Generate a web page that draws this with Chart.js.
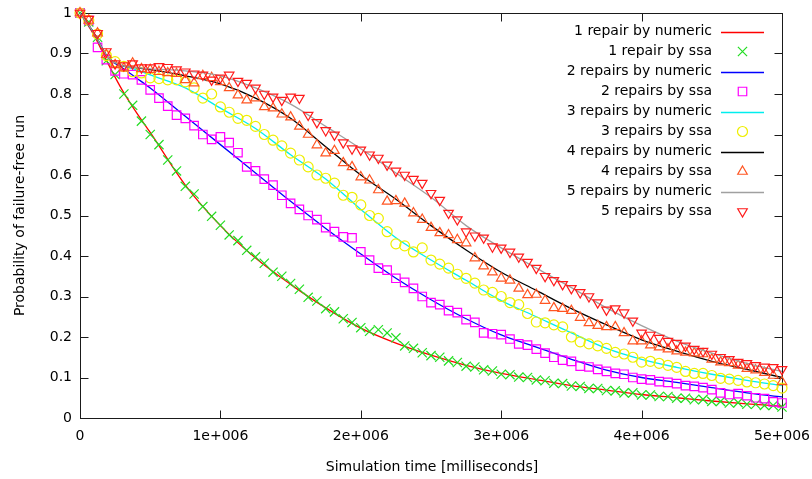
<!DOCTYPE html>
<html>
<head>
<meta charset="utf-8">
<title>Probability of failure-free run</title>
<script src="https://cdn.jsdelivr.net/npm/chart.js@4.4.1/dist/chart.umd.min.js"></script>
<style>
    html, body { margin: 0; padding: 0; background: #fff; }
    #wrap { width: 812px; height: 479px; }
</style>
</head>
<body>
<div id="wrap"><canvas id="chart" width="812" height="479"></canvas></div>
<script>
// Sample times of the numeric solution (ms)
const numericTimes = [
    0, 100000, 200000, 300000, 400000, 500000, 750000, 1000000,
    1250000, 1500000, 1750000, 2000000, 2250000, 2500000, 2750000, 3000000,
    3250000, 3500000, 3750000, 4000000, 4250000, 4500000, 4750000, 5000000
];

const oneRepairNumeric = [1, .945, .875, .81, .755, .705, .575, .475, .395, .33, .272, .222, .185, .155, .13, .11, .095, .08, .069, .058, .05, .042, .035, .029];
const twoRepairsNumeric = [1, .95, .89, .865, .84, .815, .745, .675, .605, .535, .468, .405, .345, .292, .245, .205, .175, .145, .118, .1, .088, .075, .062, .052];
const threeRepairsNumeric = [1, .95, .89, .87, .86, .847, .815, .765, .715, .65, .59, .515, .445, .39, .34, .29, .25, .21, .172, .145, .125, .108, .093, .08];
const fourRepairsNumeric = [1, .95, .89, .87, .865, .86, .845, .825, .79, .74, .67, .60, .54, .475, .415, .36, .315, .27, .23, .193, .165, .14, .12, .10];
const fiveRepairsNumeric = [1, .95, .89, .87, .865, .862, .857, .845, .815, .775, .72, .665, .605, .545, .475, .42, .37, .322, .272, .228, .19, .16, .135, .115];

// Sample times of the ssa runs (ms), 8 per row
const ssaTimes = [
    0, 62500, 125000, 187500, 250000, 312500, 375000, 437500,
    500000, 562500, 625000, 687500, 750000, 812500, 875000, 937500,
    1000000, 1062500, 1125000, 1187500, 1250000, 1312500, 1375000, 1437500,
    1500000, 1562500, 1625000, 1687500, 1750000, 1812500, 1875000, 1937500,
    2000000, 2062500, 2125000, 2187500, 2250000, 2312500, 2375000, 2437500,
    2500000, 2562500, 2625000, 2687500, 2750000, 2812500, 2875000, 2937500,
    3000000, 3062500, 3125000, 3187500, 3250000, 3312500, 3375000, 3437500,
    3500000, 3562500, 3625000, 3687500, 3750000, 3812500, 3875000, 3937500,
    4000000, 4062500, 4125000, 4187500, 4250000, 4312500, 4375000, 4437500,
    4500000, 4562500, 4625000, 4687500, 4750000, 4812500, 4875000, 4937500,
    5000000
];

const oneRepairSsa = [
    1.0, .978, .94, .882, .848, .80, .772, .733,
    .70, .675, .637, .61, .572, .553, .522, .498,
    .476, .452, .438, .414, .398, .382, .36, .35,
    .332, .318, .298, .289, .27, .262, .245, .236,
    .223, .214, .218, .21, .198, .178, .172, .161,
    .154, .15, .141, .137, .128, .126, .119, .116,
    .108, .107, .101, .1, .094, .092, .086, .085,
    .079, .078, .073, .073, .068, .067, .062, .062,
    .057, .057, .053, .053, .049, .049, .045, .046,
    .041, .041, .037, .038, .034, .034, .031, .031,
    .027
];
const twoRepairsSsa = [
    1.0, .982, .915, .885, .857, .85, .848, .835,
    .81, .79, .77, .748, .74, .722, .70, .688,
    .694, .68, .655, .62, .61, .59, .575, .55,
    .53, .515, .50, .49, .47, .46, .447, .445,
    .41, .39, .37, .365, .345, .335, .32, .30,
    .285, .28, .265, .26, .243, .236, .21, .208,
    .206, .195, .183, .18, .17, .16, .15, .143,
    .14, .128, .126, .12, .115, .11, .108, .1,
    .096, .094, .09, .088, .085, .08, .078, .075,
    .07, .062, .058, .06, .055, .05, .048, .04,
    .037
];
const threeRepairsSsa = [
    1.0, .982, .948, .895, .88, .868, .855, .852,
    .84, .838, .835, .835, .83, .815, .79, .80,
    .768, .755, .74, .735, .72, .70, .686, .672,
    .654, .637, .62, .60, .592, .58, .55, .545,
    .526, .50, .493, .46, .43, .425, .41, .42,
    .39, .38, .37, .355, .345, .333, .316, .31,
    .30, .285, .28, .258, .237, .235, .23, .225,
    .20, .188, .183, .178, .172, .162, .158, .15,
    .138, .14, .135, .13, .125, .115, .11, .11,
    .105, .098, .096, .093, .089, .087, .084, .08,
    .074
];
const fourRepairsSsa = [
    1.0, .982, .95, .897, .872, .864, .876, .862,
    .86, .855, .852, .85, .835, .827, .845, .84,
    .83, .815, .797, .785, .79, .768, .765, .75,
    .743, .72, .70, .674, .654, .66, .63, .62,
    .595, .587, .563, .535, .536, .53, .506, .49,
    .47, .457, .452, .44, .432, .395, .375, .36,
    .345, .34, .32, .304, .305, .29, .272, .27,
    .265, .248, .235, .228, .225, .225, .21, .19,
    .19, .18, .175, .17, .165, .162, .16, .158,
    .145, .138, .136, .13, .122, .118, .112, .105,
    .089
];
const fiveRepairsSsa = [
    1.0, .985, .95, .905, .875, .87, .875, .865,
    .865, .868, .866, .86, .855, .85, .847, .835,
    .84, .847, .832, .827, .815, .80, .793, .785,
    .793, .79, .748, .73, .71, .699, .68, .665,
    .662, .65, .642, .625, .61, .60, .59, .58,
    .555, .538, .506, .49, .46, .45, .445, .423,
    .42, .41, .398, .385, .37, .35, .34, .33,
    .32, .31, .30, .285, .267, .27, .26, .24,
    .21, .205, .197, .19, .185, .178, .17, .165,
    .158, .15, .145, .138, .135, .13, .126, .125,
    .12
];

// Tick labels as gnuplot prints them
const xTickLabels = ['0', '1e+006', '2e+006', '3e+006', '4e+006', '5e+006'];
const yTickLabels = ['0', '0.1', '0.2', '0.3', '0.4', '0.5', '0.6', '0.7', '0.8', '0.9', '1'];

const FONT = 'DejaVu Sans';

function toPoints(times, values) {
    return values.map((v, i) => ({ x: times[i], y: v }));
}

function numericSet(label, values, color) {
    return {
        label: label,
        data: toPoints(numericTimes, values),
        showLine: true,
        borderColor: color,
        borderWidth: 1.3,
        pointRadius: 0,
        cubicInterpolationMode: 'monotone',
        clip: false
    };
}

function ssaSet(label, values, color, style, radius, rotation) {
    return {
        label: label,
        data: toPoints(ssaTimes, values),
        showLine: false,
        borderColor: color,
        backgroundColor: 'rgba(0,0,0,0)',
        pointStyle: style,
        pointRadius: radius,
        pointRotation: rotation || 0,
        pointBorderWidth: 1.2,
        clip: false
    };
}

const datasets = [
    numericSet('1 repair by numeric', oneRepairNumeric, '#ff0000'),
    ssaSet('1 repair by ssa', oneRepairSsa, '#22dd22', 'crossRot', 6.5),
    numericSet('2 repairs by numeric', twoRepairsNumeric, '#0000ff'),
    ssaSet('2 repairs by ssa', twoRepairsSsa, '#ff00ff', 'rect', 6),
    numericSet('3 repairs by numeric', threeRepairsNumeric, '#00eeee'),
    ssaSet('3 repairs by ssa', threeRepairsSsa, '#eeee00', 'circle', 5),
    numericSet('4 repairs by numeric', fourRepairsNumeric, '#000000'),
    ssaSet('4 repairs by ssa', fourRepairsSsa, '#ff5522', 'triangle', 5.5),
    numericSet('5 repairs by numeric', fiveRepairsNumeric, '#a0a0a0'),
    ssaSet('5 repairs by ssa', fiveRepairsSsa, '#ff1a1a', 'triangle', 5.5, 180)
];
// gnuplot draws later plots on top
datasets.forEach((ds, i) => { ds.order = datasets.length - i; });

// Marker for the key, through Chart.js helpers when they are exposed
function drawMarker(ctx, ds, x, y) {
    if (Chart.helpers && Chart.helpers.drawPoint) {
        Chart.helpers.drawPoint(ctx, {
            pointStyle: ds.pointStyle,
            radius: ds.pointRadius,
            rotation: ds.pointRotation,
            borderWidth: ds.pointBorderWidth
        }, x, y);
        return;
    }
    const r = ds.pointRadius;
    ctx.beginPath();
    if (ds.pointStyle === 'crossRot') {
        const d = r * Math.SQRT1_2;
        ctx.moveTo(x - d, y - d); ctx.lineTo(x + d, y + d);
        ctx.moveTo(x - d, y + d); ctx.lineTo(x + d, y - d);
    } else if (ds.pointStyle === 'rect') {
        const d = r * Math.SQRT1_2;
        ctx.rect(x - d, y - d, 2 * d, 2 * d);
    } else if (ds.pointStyle === 'circle') {
        ctx.arc(x, y, r, 0, Math.PI * 2);
    } else {
        let a = (ds.pointRotation || 0) * Math.PI / 180;
        for (let k = 0; k < 3; k++) {
            const px = x + Math.sin(a) * r, py = y - Math.cos(a) * r;
            if (k === 0) ctx.moveTo(px, py); else ctx.lineTo(px, py);
            a += Math.PI * 2 / 3;
        }
        ctx.closePath();
    }
    ctx.stroke();
}

// Border box, inward mirrored ticks and axis titles
const gnuplotFrame = {
    id: 'gnuplotFrame',
    beforeDatasetsDraw(chart) {
        const { ctx, chartArea: a, scales } = chart;
        const L = Math.round(a.left) + 0.5, R = Math.round(a.right) + 0.5;
        const T = Math.round(a.top) + 0.5, B = Math.round(a.bottom) + 0.5;
        const tick = 8;
        ctx.save();
        ctx.strokeStyle = '#1a1a1a';
        ctx.lineWidth = 1;
        ctx.beginPath();
        scales.x.ticks.forEach(t => {
            const px = Math.round(scales.x.getPixelForValue(t.value)) + 0.5;
            ctx.moveTo(px, B); ctx.lineTo(px, B - tick);
            ctx.moveTo(px, T); ctx.lineTo(px, T + tick);
        });
        scales.y.ticks.forEach(t => {
            const py = Math.round(scales.y.getPixelForValue(t.value)) + 0.5;
            ctx.moveTo(L, py); ctx.lineTo(L + tick, py);
            ctx.moveTo(R, py); ctx.lineTo(R - tick, py);
        });
        ctx.stroke();
        ctx.strokeRect(L, T, R - L, B - T);

        ctx.fillStyle = '#000';
        ctx.font = '14px "' + FONT + '"';
        ctx.textAlign = 'center';
        ctx.textBaseline = 'middle';
        ctx.fillText('Simulation time [milliseconds]', (a.left + a.right) / 2 + 1, 467);
        ctx.translate(20, (a.top + a.bottom) / 2);
        ctx.rotate(-Math.PI / 2);
        ctx.fillText('Probability of failure-free run', 0, 0);
        ctx.restore();
    }
};

// gnuplot style key: right aligned text, sample on the right
const gnuplotKey = {
    id: 'gnuplotKey',
    afterDatasetsDraw(chart) {
        const { ctx } = chart;
        const textRight = 712, sampleLeft = 721, sampleRight = 764;
        ctx.save();
        ctx.font = '14px "' + FONT + '"';
        ctx.textAlign = 'right';
        ctx.textBaseline = 'middle';
        chart.data.datasets.forEach((ds, i) => {
            const y = 31.5 + i * 20;
            ctx.fillStyle = '#000';
            ctx.fillText(ds.label, textRight, y);
            ctx.strokeStyle = ds.borderColor;
            ctx.lineWidth = ds.showLine ? ds.borderWidth : ds.pointBorderWidth;
            if (ds.showLine) {
                ctx.beginPath();
                ctx.moveTo(sampleLeft, Math.round(y) + 0.5);
                ctx.lineTo(sampleRight, Math.round(y) + 0.5);
                ctx.stroke();
            } else {
                ctx.fillStyle = 'rgba(0,0,0,0)';
                drawMarker(ctx, ds, (sampleLeft + sampleRight) / 2, y);
            }
        });
        ctx.restore();
    }
};

Chart.defaults.font.family = FONT;
Chart.defaults.font.size = 14;
Chart.defaults.color = '#000';

new Chart(document.getElementById('chart'), {
    type: 'scatter',
    data: { datasets: datasets },
    options: {
        responsive: false,
        animation: false,
        events: [],
        layout: { autoPadding: false, padding: { top: 13, right: 30, left: 0, bottom: 0 } },
        plugins: {
            legend: { display: false },
            tooltip: { enabled: false }
        },
        scales: {
            x: {
                type: 'linear',
                min: 0,
                max: 5000000,
                grid: { display: false, drawTicks: false },
                border: { display: false },
                ticks: {
                    stepSize: 1000000,
                    padding: 10,
                    maxRotation: 0,
                    autoSkip: false,
                    callback: (v, i) => xTickLabels[i]
                },
                // fixed plot box, labels may overhang like gnuplot's
                afterFit: scale => {
                    scale.height = 61;
                    scale.paddingLeft = 0;
                    scale.paddingRight = 0;
                }
            },
            y: {
                type: 'linear',
                min: 0,
                max: 1,
                grid: { display: false, drawTicks: false },
                border: { display: false },
                ticks: {
                    stepSize: 0.1,
                    padding: 8,
                    autoSkip: false,
                    callback: (v, i) => yTickLabels[i]
                },
                afterFit: scale => {
                    scale.width = 80;
                    scale.paddingTop = 0;
                    scale.paddingBottom = 0;
                }
            }
        }
    },
    plugins: [gnuplotFrame, gnuplotKey]
});
</script>
</body>
</html>
